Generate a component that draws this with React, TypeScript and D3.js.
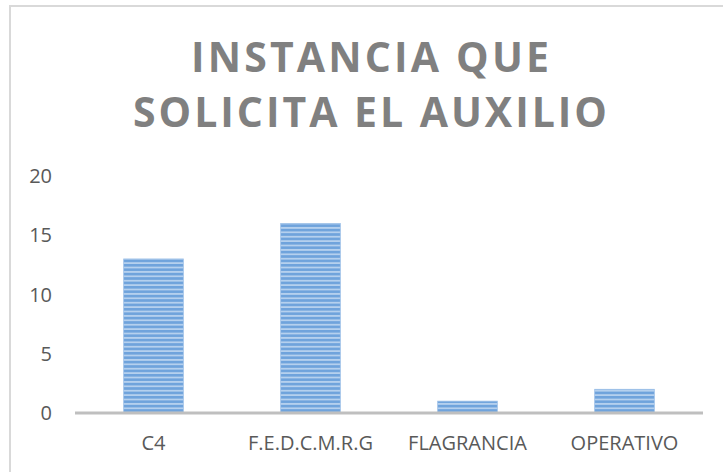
import * as d3 from 'd3';

const categories = ['C4', 'F.E.D.C.M.R.G', 'FLAGRANCIA', 'OPERATIVO'];
const values = [13, 16, 1, 2];
const yTicks = [0, 5, 10, 15, 20];
const titleLines = ['INSTANCIA QUE', 'SOLICITA EL AUXILIO'];

const W = 723;
const H = 472;
const font = '"Open Sans", "Liberation Sans", sans-serif';

export default function App() {
  const x = d3.scaleBand<string>().domain(categories).range([75, 703]).paddingInner(0.62).paddingOuter(0.31);
  const y = d3.scaleLinear().domain([0, 20]).range([413, 176]);

  return (
    <div style={{ position: 'fixed', left: 0, top: 0 }}>
      <svg width={W} height={H} style={{ display: 'block', background: '#fff' }}>
        <defs>
          <pattern id="stripes" width="8" height="4.4" patternUnits="userSpaceOnUse">
            <rect width="8" height="4.4" fill="#B5D0EE" />
            <rect y="0" width="8" height="2.6" fill="#6FA3DC" />
          </pattern>
        </defs>
        {/* chart border */}
        <rect x={10} y={6} width={W} height={H} fill="none" stroke="#D9D9D9" strokeWidth={2} />

        {/* title */}
        <text fill="#808080" fontFamily={font} fontWeight="bold" fontSize={41} textAnchor="middle">
          <tspan x={370} y={72} textLength={358} lengthAdjust="spacing">{titleLines[0]}</tspan>
          <tspan x={370} y={127} textLength={474} lengthAdjust="spacing">{titleLines[1]}</tspan>
        </text>

        {/* y tick labels */}
        {yTicks.map((t) => (
          <text key={t} x={52} y={y(t)} dy="0.36em" textAnchor="end" fill="#595959" fontFamily={font} fontSize={20}>
            {t}
          </text>
        ))}

        {/* bars */}
        {categories.map((c, i) => (
          <rect
            key={c}
            x={x(c)}
            y={y(values[i])}
            width={x.bandwidth()}
            height={y(0) - y(values[i])}
            fill="url(#stripes)"
            stroke="#9DC0E8"
            strokeWidth={0.8}
          />
        ))}

        {/* axis line */}
        <line x1={75} x2={703} y1={y(0)} y2={y(0)} stroke="#BFBFBF" strokeWidth={3} />

        {/* category labels */}
        {categories.map((c) => (
          <text
            key={c}
            x={(x(c) ?? 0) + x.bandwidth() / 2}
            y={443}
            dy="0.36em"
            textAnchor="middle"
            fill="#595959"
            fontFamily={font}
            fontSize={20}
          >
            {c}
          </text>
        ))}
      </svg>
    </div>
  );
}
